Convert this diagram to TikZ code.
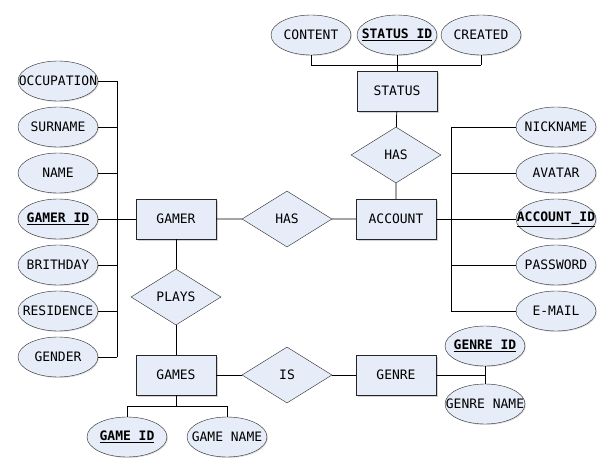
\documentclass[tikz,border=0pt]{standalone}
\usepackage{fontspec}
\setmainfont{DejaVu Sans Mono}
\usetikzlibrary{shapes.geometric, shadows, positioning}
\definecolor{erfill}{RGB}{230,236,248}
\newcommand{\attrtext}[1]{\makebox[0pt]{#1}}
\newcommand{\keytext}[1]{\makebox[0pt]{\underline{\textbf{#1}}}}
\tikzset{
  entity/.style={rectangle, draw=black!85, fill=erfill, minimum width=80pt, minimum height=40pt, inner sep=0pt, drop shadow={shadow xshift=1.5pt, shadow yshift=-1.5pt, opacity=.35}},
  relation/.style={diamond, draw=black!85, fill=erfill, minimum width=90pt, minimum height=56pt, inner sep=0pt, aspect=1.6},
  attrib/.style={ellipse, draw=black!85, fill=erfill, minimum width=80pt, minimum height=40pt, inner sep=0pt, drop shadow={shadow xshift=1pt, shadow yshift=-1pt, opacity=.25}},
  link/.style={draw=black, line width=0.75pt}
}
\begin{document}
\begin{tikzpicture}[x=1pt, y=-1pt, font=\fontsize{13}{15}\selectfont]
\useasboundingbox (0,0) rectangle (614,472);

\node[entity] (gamer) at (176,219) {GAMER};
\node[entity] (account) at (396,219) {ACCOUNT};
\node[entity] (status) at (397,91) {STATUS};
\node[entity] (games) at (176,375) {GAMES};
\node[entity] (genre) at (396,375) {GENRE};

\node[relation] (has) at (287,219) {HAS};
\node[relation] (hasstatus) at (396,155) {HAS};
\node[relation] (plays) at (176,297) {PLAYS};
\node[relation] (is) at (287,375) {IS};

\node[attrib] (content) at (311,35) {\attrtext{CONTENT}};
\node[attrib] (statusid) at (397,35) {\keytext{STATUS ID}};
\node[attrib] (created) at (481,35) {\attrtext{CREATED}};

\node[attrib] (occupation) at (58,81) {\attrtext{OCCUPATION}};
\node[attrib] (surname) at (58,127) {\attrtext{SURNAME}};
\node[attrib] (name) at (58,173) {\attrtext{NAME}};
\node[attrib] (gamerid) at (58,219) {\keytext{GAMER ID}};
\node[attrib] (brithday) at (58,265) {\attrtext{BRITHDAY}};
\node[attrib] (residence) at (58,311) {\attrtext{RESIDENCE}};
\node[attrib] (gender) at (58,357) {\attrtext{GENDER}};

\node[attrib] (nickname) at (556,127) {\attrtext{NICKNAME}};
\node[attrib] (avatar) at (556,173) {\attrtext{AVATAR}};
\node[attrib] (accountid) at (556,219) {\keytext{ACCOUNT\_ID}};
\node[attrib] (password) at (556,265) {\attrtext{PASSWORD}};
\node[attrib] (email) at (556,311) {\attrtext{E-MAIL}};

\node[attrib] (genreid) at (485,346) {\keytext{GENRE ID}};
\node[attrib] (genrename) at (485,404) {\attrtext{GENRE NAME}};

\node[attrib] (gameid) at (127,437) {\keytext{GAME ID}};
\node[attrib] (gamename) at (227,437) {\attrtext{GAME NAME}};

\coordinate (lbus) at (117,0);
\coordinate (rbus) at (451,0);
\coordinate (tbus) at (0,65);
\coordinate (bbus) at (0,406);

\draw[link] (gamer) -- (has) -- (account) -- (hasstatus) -- (status);
\draw[link] (gamer) -- (plays) -- (games) -- (is) -- (genre);

\foreach \a in {content,statusid,created}
  \draw[link] (\a.south) -- (\a.south |- tbus);
\draw[link] (content.south |- tbus) -- (created.south |- tbus);
\draw[link] (status.north) -- (status.north |- tbus);

\foreach \a in {occupation,surname,name,brithday,residence,gender}
  \draw[link] (\a.east) -- (\a.east -| lbus);
\draw[link] (occupation.east -| lbus) -- (gender.east -| lbus);
\draw[link] (gamerid.east) -- (gamer.west);

\foreach \a in {nickname,avatar,password,email}
  \draw[link] (\a.west) -- (\a.west -| rbus);
\draw[link] (nickname.west -| rbus) -- (email.west -| rbus);
\draw[link] (account.east) -- (accountid.west);

\draw[link] (genre.east) -- (genre.east -| genreid.south);
\draw[link] (genreid.south) -- (genrename.north);

\draw[link] (games.south) -- (games.south |- bbus);
\draw[link] (gameid.north |- bbus) -- (gamename.north |- bbus);
\foreach \a in {gameid,gamename}
  \draw[link] (\a.north) -- (\a.north |- bbus);

\end{tikzpicture}
\end{document}
